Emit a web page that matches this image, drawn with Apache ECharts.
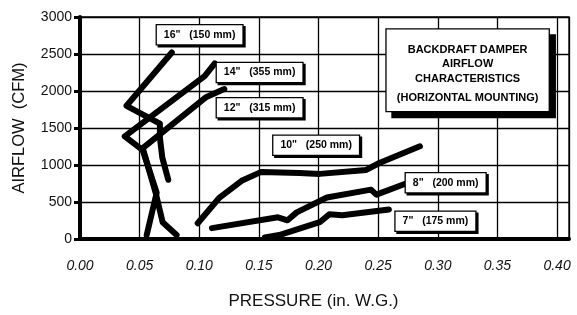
<!DOCTYPE html>
<html><head><meta charset="utf-8">
<script src="https://cdn.jsdelivr.net/npm/echarts@6/dist/echarts.min.js"></script>
<style>html,body{margin:0;padding:0;background:#fff}#c{width:577px;height:315px}</style>
</head><body><div id="c"></div>
<script>
// Pressure (in. W.G.) / Airflow (CFM) per damper size
const s16x = [0.077, 0.039, 0.067, 0.067, 0.069, 0.074];
const s16y = [2520, 1800, 1560, 1370, 1100, 800];
const s14x = [0.113, 0.1045, 0.0375, 0.0526, 0.0643, 0.0559];
const s14y = [2373, 2200, 1387, 1200, 627, 53];
const s12x = [0.121, 0.106, 0.0526, 0.0635, 0.0693, 0.081];
const s12y = [2027, 1920, 1227, 620, 227, 53];
const s10x = [0.0987, 0.117, 0.1355, 0.152, 0.184, 0.201, 0.240, 0.251, 0.285];
const s10y = [213, 560, 787, 907, 893, 880, 933, 1027, 1253];
const s8x = [0.1106, 0.166, 0.174, 0.1817, 0.207, 0.244, 0.2485, 0.275];
const s8y = [147, 293, 253, 360, 560, 667, 600, 760];
const s7x = [0.155, 0.167, 0.201, 0.209, 0.220, 0.259];
const s7y = [20, 53, 227, 333, 320, 400];

const boxText = ['16"   (150 mm)', '14"   (355 mm)', '12"   (315 mm)', '10"   (250 mm)', '8"   (200 mm)', '7"   (175 mm)'];
const boxX = [0.1003, 0.1506, 0.1506, 0.198, 0.3066, 0.298];
const boxY = [2760, 2250, 1773, 1267, 760, 240];

const titleLines = ['BACKDRAFT DAMPER', 'AIRFLOW', 'CHARACTERISTICS', '(HORIZONTAL MOUNTING)'];
const titleX = 0.325, titleY = 2280;

const xTickLabels = ['0.00','0.05','0.10','0.15','0.20','0.25','0.30','0.35','0.40'];
const yTickLabels = ['0','500','1000','1500','2000','2500','3000'];

function pairs(xs, ys) { return xs.map((x, i) => [x, ys[i]]); }
const FONT = '"Liberation Sans", Arial, sans-serif';

const curves = [[s16x, s16y], [s14x, s14y], [s12x, s12y], [s10x, s10y], [s8x, s8y], [s7x, s7y]];
const series = curves.map(c => ({
  type: 'line', data: pairs(c[0], c[1]), showSymbol: false, symbol: 'none', silent: true, z: 3,
  lineStyle: { color: '#000', width: 6, cap: 'round', join: 'round' }
}));

series.push({
  type: 'scatter', symbolSize: 1, itemStyle: { color: 'rgba(0,0,0,0)', opacity: 1 }, silent: true, z: 5,
  data: boxX.map((x, i) => [x, boxY[i], boxText[i]]),
  label: {
    show: true, position: 'inside', formatter: p => p.data[2], opacity: 1,
    fontFamily: FONT, fontWeight: 'bold', fontSize: 10.5, color: '#000',
    backgroundColor: '#fff', borderColor: '#000', borderWidth: 1.3, padding: [4, 7, 4, 7],
    shadowColor: '#000', shadowOffsetX: 2, shadowOffsetY: 2, shadowBlur: 0
  }
});

series.push({
  type: 'scatter', symbolSize: 1, itemStyle: { color: 'rgba(0,0,0,0)', opacity: 1 }, silent: true, z: 5,
  data: [[titleX, titleY]],
  label: {
    show: true, position: 'inside', opacity: 1,
    formatter: () => titleLines.slice(0, 3).map(t => '{a|' + t + '}').join('\n') + '\n{b|' + titleLines[3] + '}',
    width: 144, align: 'center',
    backgroundColor: '#fff', borderColor: '#000', borderWidth: 1.3, padding: [13, 9, 1, 9],
    shadowColor: '#000', shadowOffsetX: 6, shadowOffsetY: 6, shadowBlur: 0,
    rich: {
      a: { fontFamily: FONT, fontWeight: 'bold', fontSize: 11, color: '#000', lineHeight: 14.5, align: 'center' },
      b: { fontFamily: FONT, fontWeight: 'bold', fontSize: 11, color: '#000', lineHeight: 24, align: 'center' }
    }
  }
});

const chart = echarts.init(document.getElementById('c'), null, { renderer: 'canvas' });
chart.setOption({
  animation: false,
  backgroundColor: '#fff',
  grid: { left: 80, right: 8, top: 17, bottom: 73, show: true, borderColor: '#000', borderWidth: 1.3, backgroundColor: 'transparent' },
  xAxis: {
    type: 'value', min: 0, max: 0.41, interval: 0.05,
    name: 'PRESSURE (in. W.G.)', nameLocation: 'middle', nameGap: 54,
    nameTextStyle: { fontFamily: FONT, fontSize: 17, color: '#111', padding: [0, 22, 0, 0] },
    axisLine: { show: true, lineStyle: { color: '#000', width: 4 } },
    axisTick: { show: false },
    axisLabel: {
      margin: 20, fontFamily: FONT, fontSize: 14, fontStyle: 'italic', color: '#111',
      formatter: v => { const i = Math.round(v / 0.05); return (Math.abs(v - i * 0.05) < 1e-6 && i < xTickLabels.length) ? xTickLabels[i] : ''; }
    },
    splitLine: { show: true, lineStyle: { color: '#000', width: 1.3 } }
  },
  yAxis: {
    type: 'value', min: 0, max: 3000, interval: 500,
    name: 'AIRFLOW  (CFM)', nameLocation: 'middle', nameGap: 52, nameRotate: 90,
    nameTextStyle: { fontFamily: FONT, fontSize: 16.5, color: '#111' },
    axisLine: { show: true, lineStyle: { color: '#000', width: 4 } },
    axisTick: { show: true, length: 6, lineStyle: { color: '#000', width: 3 } },
    axisLabel: { margin: 8, fontFamily: FONT, fontSize: 14, color: '#111',
      formatter: v => yTickLabels[Math.round(v / 500)] },
    splitLine: { show: true, lineStyle: { color: '#000', width: 1.3 } }
  },
  series: series
});
</script>
</body></html>
